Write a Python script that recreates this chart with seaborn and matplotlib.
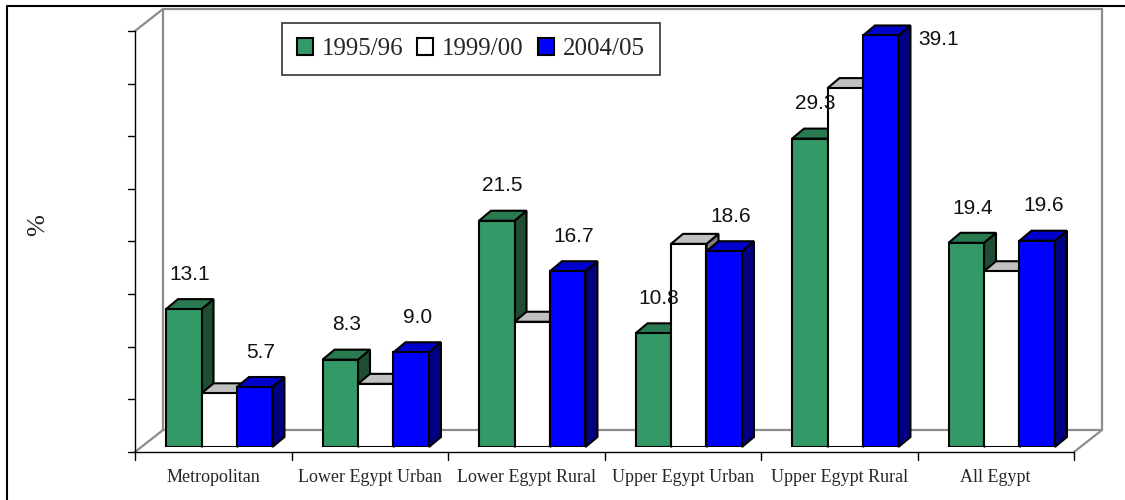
import numpy as np
import pandas as pd
import matplotlib
matplotlib.use("Agg")
import matplotlib.pyplot as plt
import matplotlib.transforms as mtransforms
from matplotlib.patches import Polygon, Patch
from matplotlib.lines import Line2D
import seaborn as sns

# data (poverty rate, %)
regions = ["Metropolitan", "Lower Egypt Urban", "Lower Egypt Rural",
           "Upper Egypt Urban", "Upper Egypt Rural", "All Egypt"]
periods = ["1995/96", "1999/00", "2004/05"]
pov_9596 = [13.1, 8.3, 21.5, 10.8, 29.3, 19.4]
pov_9900 = [5.1, 6.0, 11.9, 19.3, 34.1, 16.7]
pov_0405 = [5.7, 9.0, 16.7, 18.6, 39.1, 19.6]
labelled = ["1995/96", "2004/05"]
y_ticks = [0, 5, 10, 15, 20, 25, 30, 35, 40]

front_col = {"1995/96": "#339966", "1999/00": "#FFFFFF", "2004/05": "#0000FF"}
top_col = {"1995/96": "#2A7A50", "1999/00": "#C0C0C0", "2004/05": "#0000CC"}
side_col = {"1995/96": "#1E4D33", "1999/00": "#808080", "2004/05": "#000080"}

df = pd.DataFrame({
    "region": regions * 3,
    "period": [p for p in periods for _ in regions],
    "value": pov_9596 + pov_9900 + pov_0405,
})

sns.set_style("white")
plt.rcParams["font.family"] = ["Liberation Serif", "DejaVu Serif"]

DPI = 100
fig = plt.figure(figsize=(11.25, 5), dpi=DPI)
# axes = plane of the bars' front faces
ax = fig.add_axes([141 / 1125, 53 / 500, 939 / 1125, 421 / 500])
ax.set_facecolor("none")

sns.barplot(data=df, x="region", y="value", hue="period", hue_order=periods,
            palette=front_col, width=0.68, saturation=1, edgecolor="black",
            linewidth=1.5, legend=False, ax=ax)

ax.set_xlim(-0.5, len(regions) - 0.5)
ax.set_ylim(0, 40)
for s in ax.spines.values():
    s.set_visible(False)
ax.set_yticks([])
ax.tick_params(axis="x", length=0, pad=16)
ax.set_xlabel("")
ax.set_ylabel("%", fontsize=19, family="Liberation Serif")
ax.yaxis.set_label_coords(-0.098, 0.527)
shift = mtransforms.ScaledTranslation(-6 / DPI, 0, fig.dpi_scale_trans)
for lab in ax.get_xticklabels():
    lab.set_fontsize(13)
    lab.set_transform(lab.get_transform() + shift)

inv = ax.transData.inverted()


def to_data(x, y, dx=0, dy=0):
    px, py = ax.transData.transform((x, y))
    return inv.transform((px + dx, py + dy))


# 3D depth of bars (pixels)
DX, DY = 12, 10
for h, (period, cont) in enumerate(zip(periods, ax.containers)):
    for rect in cont:
        x0, w, hgt = rect.get_x(), rect.get_width(), rect.get_height()
        rect.set_zorder(3 + h * 0.1 + 0.05)
        side = [to_data(x0 + w, 0), to_data(x0 + w, hgt),
                to_data(x0 + w, hgt, DX, DY), to_data(x0 + w, 0, DX, DY)]
        top = [to_data(x0, hgt), to_data(x0 + w, hgt),
               to_data(x0 + w, hgt, DX, DY), to_data(x0, hgt, DX, DY)]
        ax.add_patch(Polygon(side, closed=True, fc=side_col[period], ec="black",
                             lw=1.5, zorder=3 + h * 0.1, clip_on=False))
        ax.add_patch(Polygon(top, closed=True, fc=top_col[period], ec="black",
                             lw=1.5, zorder=3 + h * 0.1, clip_on=False))
        if period in labelled:
            if hgt > 0.9 * y_ticks[-1]:
                off = (42, -3)
            else:
                off = (4.3, 25)
            ax.annotate(f"{hgt:.1f}", (x0 + w / 2, hgt), xytext=off,
                        textcoords="offset points", ha="center", va="center",
                        fontsize=15, family="Liberation Sans", color="#111111",
                        zorder=6, annotation_clip=False)

# walls (gray) and front axes (black)
xl, xr = -0.5, len(regions) - 0.5
yt = y_ticks[-1]
FX, FY = -6, -5   # front plane offset
BX, BY = 22, 17   # back wall offset
gray = "#8C8C8C"


def seg(p, q, **kw):
    ax.add_line(Line2D([p[0], q[0]], [p[1], q[1]], clip_on=False, **kw))


wall = dict(color=gray, lw=1.6, zorder=1)
seg(to_data(xl, 0, BX, BY), to_data(xr, 0, BX, BY), **wall)
seg(to_data(xl, 0, BX, BY), to_data(xl, yt, BX, BY), **wall)
seg(to_data(xr, 0, BX, BY), to_data(xr, yt, BX, BY), **wall)
seg(to_data(xl, yt, BX, BY), to_data(xr, yt, BX, BY), **wall)
seg(to_data(xl, 0, FX, FY), to_data(xl, 0, BX, BY), **wall)
seg(to_data(xr, 0, FX, FY), to_data(xr, 0, BX, BY), **wall)
seg(to_data(xl, yt, FX, FY), to_data(xl, yt, BX, BY), **wall)

axis = dict(color="black", lw=1.0, zorder=2)
seg(to_data(xl, 0, FX, FY), to_data(xl, yt, FX, FY), **axis)
seg(to_data(xl, 0, FX, FY), to_data(xr, 0, FX, FY), **axis)
for v in y_ticks:
    seg(to_data(xl, v, FX, FY), to_data(xl, v, FX - 7, FY), **axis)
for b in np.arange(len(regions) + 1) - 0.5:
    seg(to_data(b, 0, FX, FY), to_data(b, 0, FX, FY - 8), **axis)

handles = [Patch(fc=front_col[p], ec="black", lw=1.5) for p in periods]
leg = ax.legend(handles, periods, ncol=3, loc="upper left",
                bbox_to_anchor=(0.150, 1.007), borderaxespad=0,
                prop={"family": "Liberation Serif", "size": 18},
                handlelength=0.65, handleheight=0.65, handletextpad=0.35,
                columnspacing=0.55, borderpad=0.6, fancybox=False,
                frameon=True, edgecolor="black")
leg.get_frame().set_linewidth(1.2)
leg.set_zorder(7)

# outer border (left and top)
fig.add_artist(Line2D([7 / 1125, 7 / 1125, 1], [0, 494 / 500, 494 / 500],
                      transform=fig.transFigure, color="black", lw=1.5))

fig.savefig("out.png", dpi=DPI)
